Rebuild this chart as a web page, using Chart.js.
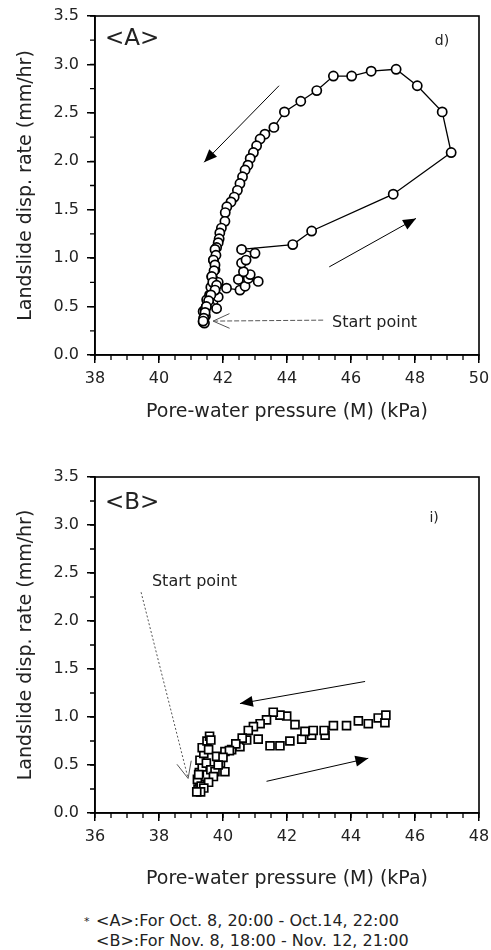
<!DOCTYPE html>
<html>
<head>
<meta charset="utf-8">
<script src="https://cdn.jsdelivr.net/npm/chart.js@4.4.0/dist/chart.umd.min.js"></script>
<style>
body { margin:0; background:#fff; width:491px; height:950px; position:relative; overflow:hidden; font-family:"DejaVu Sans"; color:#222; }
canvas { position:absolute; left:0; }
#cA { top:0; }
#cB { top:460px; }
.note { position:absolute; font-size:16px; line-height:20px; white-space:pre; }
</style>
</head>
<body>
<canvas id="cA" width="491" height="430"></canvas>
<canvas id="cB" width="491" height="435"></canvas>
<div class="note" style="left:84px; top:912px; font-size:11px">*</div>
<div class="note" style="left:96px; top:911px">&lt;A&gt;:For Oct. 8, 20:00 - Oct.14, 22:00</div>
<div class="note" style="left:96px; top:931px">&lt;B&gt;:For Nov. 8, 18:00 - Nov. 12, 21:00</div>
<script>
// <A> Oct. 8 - Oct. 14, circles joined in time order
const pressureA = [41.38, 41.40, 41.42, 41.45, 41.38, 41.48, 41.44, 41.49, 41.58, 41.80,
	41.85, 41.75, 41.62, 41.80, 41.65, 41.75, 41.70, 41.85, 42.11, 42.53,
	42.69, 42.48, 42.79, 43.10, 42.85, 42.64, 42.58, 42.72, 43.00, 42.58,
	44.18, 44.77, 47.32, 49.13, 48.85, 48.07, 47.41, 46.63, 46.02, 45.45,
	44.93, 44.43, 43.92, 43.59, 43.31, 43.16, 43.05, 42.95, 42.85, 42.78,
	42.69, 42.61, 42.53, 42.45, 42.35, 42.25, 42.12, 42.07, 42.06, 41.95,
	41.90, 41.88, 41.85, 41.80, 41.75, 41.78, 41.70, 41.75, 41.72, 41.65,
	41.68, 41.80, 41.75, 41.62, 41.55, 41.48, 41.44, 41.40, 41.38]
const rateA = [0.34, 0.38, 0.33, 0.40, 0.45, 0.50, 0.47, 0.57, 0.62, 0.48,
	0.60, 0.67, 0.70, 0.72, 0.81, 0.88, 0.98, 0.75, 0.69, 0.67,
	0.71, 0.78, 0.79, 0.76, 0.83, 0.86, 0.95, 0.98, 1.05, 1.09,
	1.14, 1.28, 1.66, 2.09, 2.51, 2.78, 2.95, 2.93, 2.88, 2.88,
	2.73, 2.62, 2.51, 2.35, 2.28, 2.23, 2.16, 2.09, 2.03, 1.96,
	1.91, 1.84, 1.77, 1.70, 1.63, 1.58, 1.53, 1.47, 1.38, 1.31,
	1.26, 1.20, 1.16, 1.11, 1.09, 1.03, 0.98, 0.93, 0.87, 0.81,
	0.75, 0.72, 0.67, 0.62, 0.56, 0.50, 0.44, 0.38, 0.35]

// <B> Nov. 8 - Nov. 12, squares
const pressureB = [39.22, 39.28, 39.20, 39.32, 39.26, 39.35, 39.28, 39.40, 39.35, 39.50,
	39.58, 39.62, 39.55, 39.48, 39.62, 39.75, 40.06, 39.92, 39.80, 40.06,
	40.27, 40.53, 40.74, 41.10, 41.47, 41.78, 42.09, 42.46, 42.77, 43.19,
	43.45, 43.86, 44.23, 44.54, 44.85, 45.06, 45.09, 43.16, 42.82, 42.56,
	42.25, 41.99, 41.78, 41.57, 41.36, 41.16, 40.95, 40.79, 40.60, 40.40,
	40.20, 40.00, 39.85, 39.70, 39.55, 39.40, 39.30, 39.18, 39.24]
const rateB = [0.25, 0.30, 0.35, 0.28, 0.42, 0.48, 0.55, 0.62, 0.68, 0.75,
	0.80, 0.76, 0.66, 0.52, 0.45, 0.43, 0.43, 0.52, 0.59, 0.64,
	0.66, 0.69, 0.76, 0.77, 0.70, 0.70, 0.75, 0.77, 0.81, 0.81,
	0.91, 0.91, 0.96, 0.93, 0.99, 0.94, 1.02, 0.86, 0.86, 0.85,
	0.92, 1.01, 1.02, 1.05, 0.97, 0.93, 0.90, 0.86, 0.78, 0.72,
	0.65, 0.58, 0.50, 0.38, 0.32, 0.26, 0.22, 0.22, 0.40]

const yTicks = [0, 0.5, 1.0, 1.5, 2.0, 2.5, 3.0, 3.5]

const FONT = '"DejaVu Sans", sans-serif'

function arrow(ctx, x1, y1, x2, y2, open) {
	const ang = Math.atan2(y2 - y1, x2 - x1)
	ctx.beginPath()
	ctx.moveTo(x1, y1)
	ctx.lineTo(x2, y2)
	ctx.stroke()
	if (open) {
		ctx.setLineDash([])
		ctx.beginPath()
		ctx.moveTo(x2 + 18 * Math.cos(ang + Math.PI - 0.42), y2 + 18 * Math.sin(ang + Math.PI - 0.42))
		ctx.lineTo(x2, y2)
		ctx.lineTo(x2 + 18 * Math.cos(ang + Math.PI + 0.42), y2 + 18 * Math.sin(ang + Math.PI + 0.42))
		ctx.stroke()
	} else {
		ctx.beginPath()
		ctx.moveTo(x2, y2)
		ctx.lineTo(x2 + 14 * Math.cos(ang + Math.PI - 0.4), y2 + 14 * Math.sin(ang + Math.PI - 0.4))
		ctx.lineTo(x2 + 14 * Math.cos(ang + Math.PI + 0.4), y2 + 14 * Math.sin(ang + Math.PI + 0.4))
		ctx.closePath()
		ctx.fill()
	}
}

const decoPlugin = {
	id: 'deco',
	afterDatasetsDraw(chart, args, o) {
		const {ctx, chartArea: a, scales: {x, y}} = chart
		ctx.save()
		ctx.strokeStyle = '#000'
		ctx.fillStyle = '#000'
		ctx.lineWidth = 1.6
		ctx.strokeRect(a.left, a.top, a.right - a.left, a.bottom - a.top)
		// minor ticks
		ctx.lineWidth = 1.3
		ctx.beginPath()
		for (let v = x.min; v <= x.max + 1e-9; v += 0.5) {
			const px = x.getPixelForValue(v)
			ctx.moveTo(px, a.bottom)
			ctx.lineTo(px, a.bottom + 5)
		}
		for (let v = y.min; v <= y.max + 1e-9; v += 0.25) {
			const py = y.getPixelForValue(v)
			ctx.moveTo(a.left, py)
			ctx.lineTo(a.left - 5, py)
		}
		ctx.stroke()
		// direction arrows
		ctx.lineWidth = 1
		o.arrows.forEach(r => arrow(ctx, x.getPixelForValue(r[0]), y.getPixelForValue(r[1]),
			x.getPixelForValue(r[2]), y.getPixelForValue(r[3]), false))
		// start point pointer
		const s = o.start
		ctx.strokeStyle = '#555'
		ctx.lineWidth = 1
		ctx.setLineDash(s.dash)
		arrow(ctx, x.getPixelForValue(s.line[0]), y.getPixelForValue(s.line[1]),
			x.getPixelForValue(s.line[2]), y.getPixelForValue(s.line[3]), true)
		ctx.setLineDash([])
		// texts
		ctx.fillStyle = '#222'
		ctx.textBaseline = 'middle'
		ctx.textAlign = 'left'
		o.texts.forEach(t => {
			ctx.font = t[3] + 'px ' + FONT
			ctx.fillText(t[0], x.getPixelForValue(t[1]), y.getPixelForValue(t[2]))
		})
		ctx.restore()
	}
}

function makeChart(id, xs, ys, xmin, xmax, pt, radius, line, plotBottom, titlePad, padTop, notes) {
	const H = document.getElementById(id).height
	return new Chart(document.getElementById(id), {
		type: 'scatter',
		data: {
			datasets: [{
				data: xs.map((v, i) => ({x: v, y: ys[i]})),
				showLine: line,
				borderColor: '#000',
				borderWidth: 1.3,
				backgroundColor: '#fff',
				pointStyle: pt,
				pointRadius: radius,
				pointBorderWidth: 1.7,
				pointBorderColor: '#000',
				pointBackgroundColor: '#fff'
			}]
		},
		options: {
			responsive: false,
			animation: false,
			devicePixelRatio: 1,
			layout: {padding: {top: padTop, right: 12, left: 0, bottom: 0}},
			plugins: {legend: {display: false}, tooltip: {enabled: false}, deco: notes},
			scales: {
				x: {
					type: 'linear', min: xmin, max: xmax,
					afterFit: s => { s.height = H - plotBottom; s.paddingRight = 0; s.paddingLeft = 0 },
					ticks: {stepSize: 2, color: '#222', padding: 6, font: {family: FONT, size: 16}},
					grid: {drawOnChartArea: false, tickLength: 8, color: '#000', lineWidth: 1.5},
					border: {color: '#000', width: 1.6},
					title: {display: true, text: 'Pore-water pressure (M) (kPa)', color: '#222',
						font: {family: FONT, size: 19}, padding: {top: 0, bottom: titlePad}}
				},
				y: {
					type: 'linear', min: 0, max: 3.5,
					afterFit: s => { s.width = 95; s.paddingTop = 0; s.paddingBottom = 0 },
					afterBuildTicks: s => { s.ticks = yTicks.map(v => ({value: v})) },
					ticks: {color: '#222', padding: 8, font: {family: FONT, size: 16},
						callback: v => v.toFixed(1)},
					grid: {drawOnChartArea: false, tickLength: 8, color: '#000', lineWidth: 1.5},
					border: {color: '#000', width: 1.6},
					title: {display: true, text: 'Landslide disp. rate (mm/hr)', color: '#222',
						font: {family: FONT, size: 19}, padding: {top: 15, bottom: 0}}
				}
			}
		},
		plugins: [decoPlugin]
	})
}

makeChart('cA', pressureA, rateA, 38, 50, 'circle', 4.6, true, 355, 7, 16, {
	arrows: [[43.75, 2.78, 41.41, 1.99], [45.32, 0.91, 48.03, 1.41]],
	start: {line: [45.13, 0.36, 41.69, 0.35], dash: [5, 2]},
	texts: [['<A>', 38.31, 3.26, 23], ['d)', 48.62, 3.24, 14], ['Start point', 45.41, 0.33, 16]]
})

makeChart('cB', pressureB, rateB, 36, 48, 'rect', 5.6, false, 353, 5, 17, {
	arrows: [[44.44, 1.37, 40.53, 1.14], [41.36, 0.33, 44.54, 0.57]],
	start: {line: [37.44, 2.30, 38.91, 0.36], dash: [2, 2]},
	texts: [['<B>', 36.31, 3.23, 23], ['i)', 46.45, 3.07, 14], ['Start point', 37.78, 2.41, 16]]
})
</script>
</body>
</html>
